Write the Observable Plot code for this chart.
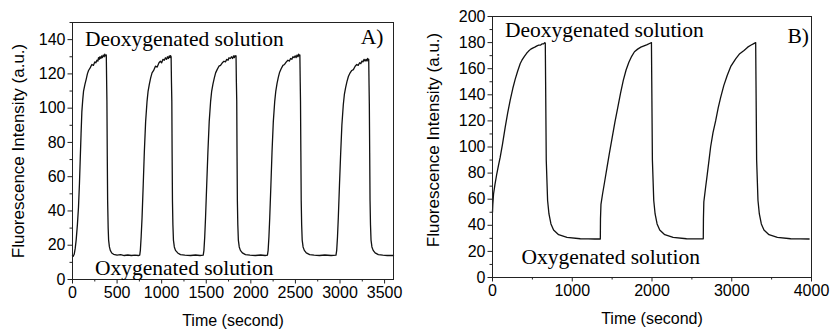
<!DOCTYPE html>
<html><head><meta charset="utf-8">
<script src="https://cdn.jsdelivr.net/npm/d3@7"></script>
<script src="https://cdn.jsdelivr.net/npm/@observablehq/plot@0.6"></script>
<style>
body{margin:0;background:#fff}
#wrap{position:relative;width:831px;height:331px;overflow:hidden;background:#fff}
.p{position:absolute;top:0}
</style></head>
<body><div id="wrap"><div class="p" id="a" style="left:0"></div><div class="p" id="b" style="left:415px"></div></div>
<script>
// Panel A: time (s), fluorescence (a.u.) — five cycles
const a1 = [[0,14],[8,13.6],[19,14.7],[30,18],[41,23],[55,32],[67,42],[78,56],[86,69],[96,85],[105,98],[115,105],[124,110],[140,114],[154,117],[167,120],[180,122],[198,123.5],[217,125.5],[235,125],[250,127],[262,126.5],[274,128],[285,127.5],[292,129.5],[300,128.5],[308,130],[318,129],[326,130.5],[335,129.5],[345,131],[355,130],[362,131.5],[370,130.5],[379,131],[383,115],[386,104],[390,72],[394,46],[400,30],[405,23],[414,19],[424,17],[440,15.5],[461,14.7],[500,14.2],[540,14.5],[580,14],[620,14.3],[660,14],[700,14.2],[740,14]];
const a2 = [[754,14.2],[761,17],[770,25],[780,36],[793,55],[806,75],[820,92],[836,104],[848,110],[862,114],[876,117.5],[892,120.6],[910,122],[930,124.5],[950,124],[970,126.5],[986,127.4],[1000,126.5],[1015,128.5],[1030,128],[1042,129.4],[1055,128.5],[1065,130],[1075,129],[1085,130.5],[1092,129.5],[1099,130.7],[1106,130],[1110,115],[1114,104],[1117,75],[1121,46],[1126,32],[1132,23],[1142,19],[1155,17],[1180,15.5],[1211,14.5],[1260,14.2],[1324,14],[1380,14.3],[1430,14]];
const a3 = [[1466,14.2],[1474,17],[1483,25],[1492,36],[1505,55],[1519,75],[1533,92],[1549,104],[1561,110],[1575,114],[1590,117.5],[1605,120.6],[1622,122.5],[1642,124.5],[1660,125],[1680,126.5],[1699,127.4],[1715,127],[1730,128.5],[1745,128],[1755,129.4],[1770,129],[1782,130],[1795,129],[1805,130.5],[1815,129.5],[1822,130.7],[1830,130],[1834,130.5],[1838,115],[1842,104],[1845,75],[1849,46],[1854,32],[1860,23],[1870,19],[1883,17],[1905,15.5],[1940,14.5],[1990,14.2],[2050,14],[2110,14.3],[2160,14]];
const a4 = [[2186,14.2],[2194,17],[2203,25],[2212,36],[2225,55],[2238,75],[2252,92],[2268,104],[2280,110],[2294,114.5],[2308,118],[2323,121],[2340,123],[2360,125],[2378,125.5],[2398,127],[2416,128],[2432,127.5],[2446,129],[2460,128.5],[2472,130],[2485,129.5],[2497,130.5],[2508,129.5],[2518,131],[2528,130],[2536,131.5],[2543,130.5],[2550,131],[2554,115],[2557,104],[2561,75],[2565,46],[2570,32],[2576,23],[2586,19],[2600,17],[2622,15.5],[2660,14.5],[2710,14.2],[2770,14],[2830,14.3],[2900,14]];
const a5 = [[2955,14.2],[2963,17],[2972,25],[2981,36],[2994,55],[3007,73],[3021,90],[3037,102],[3049,108],[3063,112],[3078,115.5],[3094,118.5],[3112,120.5],[3132,122],[3150,122.5],[3170,124.5],[3188,125.5],[3204,125],[3220,126.5],[3234,126],[3246,127.5],[3258,127],[3270,128.5],[3280,127.5],[3292,128.5],[3302,127.5],[3310,129],[3317,128],[3322,128.5],[3326,113],[3329,102],[3333,74],[3337,46],[3342,32],[3348,23],[3358,19],[3372,17],[3394,15.5],[3430,14.5],[3480,14.2],[3530,14],[3600,14]];

// Panel B: three cycles
const b1 = [[0,50],[4,56],[13,64],[30,71],[54,79.5],[75,86],[96,92],[125,102],[159,115],[190,126],[222,136],[255,145],[285,152],[315,158],[348,164],[369,166.5],[400,169.5],[430,172],[453,173.5],[480,175],[510,176],[530,176.5],[558,177.5],[580,178],[600,178],[620,179],[640,179],[655,180],[662,179.5],[666,150],[674,90],[691,59],[708,48.7],[733,41],[766,36.4],[829,32.8],[934,30.8],[1101,29.7],[1200,29.6],[1280,29.5]];
const b2 = [[1352,29.5],[1354,45],[1360,56],[1380,64],[1405,73],[1435,84],[1465,95],[1500,107],[1535,119],[1570,130],[1605,141],[1640,151],[1675,159],[1710,165],[1745,169.5],[1780,173],[1820,175],[1860,176.5],[1900,177.5],[1940,178.5],[1975,179.5],[1993,180],[1997,150],[2005,90],[2022,59],[2039,48.7],[2064,41],[2097,36.4],[2160,32.8],[2265,30.8],[2432,29.7],[2550,29.6]];
const b3 = [[2643,29.7],[2645,45],[2650,58],[2670,68],[2693,79],[2715,90],[2735,100],[2765,111],[2798,120],[2830,130],[2861,138],[2900,147],[2944,155],[2990,162],[3049,167.5],[3100,171.5],[3154,174],[3200,176.5],[3238,178],[3270,179],[3300,180],[3304,150],[3312,90],[3329,59],[3346,48.7],[3371,41],[3404,36.4],[3467,32.8],[3572,30.8],[3739,29.7],[3860,29.6],[3970,29.5]];

// Tick values
const xTicksA = [0,500,1000,1500,2000,2500,3000,3500];
const xMinorA = [250,750,1250,1750,2250,2750,3250];
const yTicksA = [0,20,40,60,80,100,120,140];
const yMinorA = [10,30,50,70,90,110,130,150];
const xTicksB = [0,1000,2000,3000,4000];
const xMinorB = [500,1500,2500,3500];
const yTicksB = [0,20,40,60,80,100,120,140,160,180,200];
const yMinorB = [10,30,50,70,90,110,130,150,170,190];

// Labels
const xLabel = "Time (second)";
const yLabel = "Fluorescence Intensity (a.u.)";
const deoxLabel = "Deoxygenated solution";
const oxLabel = "Oxygenated solution";

const sans = "'Liberation Sans', Arial, sans-serif";
const serif = "'Liberation Serif', 'Times New Roman', serif";
const plain = d => String(d);

function panel({data, xDomain, yDomain, xTicks, xMinor, yTicks, yMinor, m, width, tag, pos}) {
  return Plot.plot({
    width, height: 331,
    marginLeft: m[0], marginRight: m[1], marginTop: m[2], marginBottom: m[3],
    style: {fontFamily: sans, fontSize: "16px", background: "white", color: "#000", overflow: "visible"},
    x: {domain: xDomain, label: null},
    y: {domain: yDomain, label: null},
    marks: [
      Plot.axisX({ticks: xTicks, tickSize: 4.5, tickPadding: 3, tickFormat: plain, label: null, fontSize: 16, stroke: "#222"}),
      Plot.axisX({ticks: xMinor, tickSize: 2.5, tickFormat: () => "", label: null, stroke: "#222"}),
      Plot.axisY({ticks: yTicks, tickSize: 4.5, tickPadding: 2.5, tickFormat: plain, label: null, fontSize: 16, stroke: "#222"}),
      Plot.axisY({ticks: yMinor, tickSize: 2.5, tickFormat: () => "", label: null, stroke: "#222"}),
      Plot.line(data, {x: d => d[0], y: d => d[1], stroke: "#111", strokeWidth: 1.3}),
      Plot.frame({stroke: "#222", strokeWidth: 1}),
      Plot.text([xLabel], {frameAnchor: "bottom", dy: 41, lineAnchor: "middle", fontSize: 16, fill: "#000"}),
      Plot.text([yLabel], {frameAnchor: "left", dx: pos.yl[0], dy: pos.yl[1], rotate: -90, lineAnchor: "middle", textAnchor: "middle", fontSize: 17, fill: "#000"}),
      Plot.text([deoxLabel], {frameAnchor: "top-left", dx: pos.de[0], dy: pos.de[1], textAnchor: "start", lineAnchor: "bottom", fontFamily: serif, fontSize: 21.5, fill: "#000"}),
      Plot.text([oxLabel], {frameAnchor: "bottom-left", dx: pos.ox[0], dy: pos.ox[1], textAnchor: "start", lineAnchor: "bottom", fontFamily: serif, fontSize: 21.5, fill: "#000"}),
      Plot.text([tag], {frameAnchor: "top-right", dx: pos.tg[0], dy: pos.tg[1], textAnchor: "end", lineAnchor: "bottom", fontFamily: serif, fontSize: 21.5, fill: "#000"})
    ]
  });
}

document.getElementById("a").append(panel({
  data: [...a1, ...a2, ...a3, ...a4, ...a5],
  xDomain: [0, 3600], yDomain: [0, 150],
  xTicks: xTicksA, xMinor: xMinorA, yTicks: yTicksA, yMinor: yMinorA,
  m: [72, 22, 22, 52], width: 415, tag: "A)",
  pos: {yl: [-54, 0], de: [12.5, 23], ox: [22.5, -5], tg: [-10, 21.5]}
}));
document.getElementById("b").append(panel({
  data: [...b1, ...b2, ...b3],
  xDomain: [0, 4000], yDomain: [0, 200],
  xTicks: xTicksB, xMinor: xMinorB, yTicks: yTicksB, yMinor: yMinorB,
  m: [77, 20, 16, 54], width: 416, tag: "B)",
  pos: {yl: [-59, -7], de: [12.5, 20], ox: [29, -13.5], tg: [-2.5, 26]}
}));
</script></body></html>
